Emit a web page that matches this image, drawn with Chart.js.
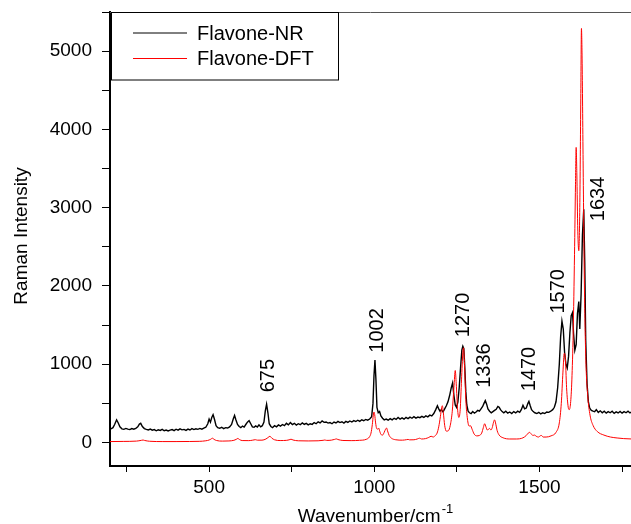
<!DOCTYPE html>
<html>
<head>
<meta charset="utf-8">
<script src="https://cdn.jsdelivr.net/npm/chart.js@4.4.1/dist/chart.umd.min.js"></script>
<style>
  html, body { margin: 0; padding: 0; background: #fff; }
  #wrap { width: 631px; height: 524px; overflow: hidden; }
</style>
</head>
<body>
<div id="wrap"><canvas id="RamanChart" width="631" height="524"></canvas></div>
<script>
// measured spectrum (Flavone-NR)
const nrWavenumber = [
  197, 203, 209, 214, 220, 225, 230, 236, 242, 248, 254, 260, 266, 272, 278, 284, 289, 293, 298, 304,
  310, 316, 322, 328, 334, 340, 346, 352, 358, 364, 370, 376, 382, 388, 394, 400, 406, 412, 418, 424,
  430, 436, 442, 448, 454, 460, 466, 472, 478, 484, 490, 496, 500, 504, 508, 512, 516, 521, 526, 532,
  538, 544, 550, 556, 562, 568, 573, 577, 581, 586, 591, 596, 601, 606, 611, 616, 621, 626, 631, 636,
  641, 646, 651, 656, 661, 666, 670, 674, 678, 682, 687, 692, 698, 704, 710, 716, 722, 728, 734, 740,
  746, 752, 758, 764, 770, 776, 782, 788, 794, 800, 806, 812, 818, 824, 830, 836, 842, 848, 854, 860,
  866, 872, 878, 884, 890, 896, 902, 908, 914, 920, 926, 932, 938, 944, 950, 956, 962, 968, 974, 980,
  986, 992, 996, 999, 1002, 1005, 1008, 1012, 1016, 1020, 1025, 1030, 1036, 1042, 1048, 1054, 1060, 1066, 1072, 1078,
  1084, 1090, 1096, 1102, 1108, 1114, 1120, 1126, 1132, 1138, 1144, 1150, 1156, 1162, 1168, 1174, 1180, 1186, 1191, 1195,
  1199, 1203, 1208, 1213, 1218, 1223, 1228, 1233, 1237, 1241, 1245, 1249, 1253, 1257, 1261, 1265, 1268, 1271, 1274, 1277,
  1280, 1284, 1288, 1293, 1298, 1303, 1308, 1313, 1318, 1323, 1328, 1332, 1336, 1340, 1344, 1349, 1354, 1359, 1364, 1369,
  1374, 1378, 1382, 1387, 1392, 1398, 1404, 1410, 1416, 1422, 1428, 1434, 1440, 1445, 1450, 1455, 1460, 1465, 1468, 1472,
  1476, 1481, 1486, 1492, 1498, 1504, 1510, 1516, 1522, 1528, 1534, 1540, 1545, 1550, 1555, 1560, 1564, 1568, 1572, 1576,
  1580, 1584, 1588, 1592, 1596, 1600, 1603, 1607, 1611, 1615, 1619, 1622, 1626, 1630, 1634, 1637, 1640, 1644, 1648, 1652,
  1657, 1662, 1667, 1672, 1678, 1684, 1690, 1696, 1702, 1708, 1714, 1720, 1726, 1732, 1738, 1744, 1750, 1756, 1762, 1768,
  1774, 1780
];
const nrIntensity = [
  180, 175, 190, 230, 290, 250, 200, 175, 168, 180, 172, 165, 178, 170, 182, 200, 235, 245, 205, 178,
  168, 160, 172, 158, 165, 150, 162, 155, 168, 150, 160, 148, 158, 165, 152, 170, 158, 175, 162, 168,
  155, 172, 160, 178, 165, 175, 168, 180, 170, 185, 195, 240, 300, 260, 320, 355, 300, 215, 190, 182,
  195, 178, 190, 185, 200, 230, 300, 345, 290, 230, 205, 190, 210, 198, 230, 260, 280, 240, 200, 195,
  212, 198, 225, 200, 215, 260, 400, 490, 380, 240, 205, 190, 215, 200, 225, 210, 230, 215, 245, 225,
  255, 230, 245, 222, 240, 228, 250, 232, 245, 225, 240, 232, 255, 240, 265, 250, 275, 258, 262, 248,
  255, 240, 262, 250, 270, 255, 265, 248, 270, 258, 275, 262, 280, 268, 285, 270, 290, 278, 295, 285,
  300, 330, 500, 850, 1055, 800, 450, 380, 395, 340, 310, 290, 300, 285, 305, 290, 310, 295, 320, 300,
  315, 298, 320, 305, 325, 310, 330, 312, 325, 318, 335, 320, 340, 328, 350, 340, 370, 420, 470, 430,
  400, 420, 390, 430, 470, 520, 600, 700, 760, 600, 480, 450, 520, 700, 950, 1180, 1230, 1200, 950, 650,
  480, 400, 380, 370, 395, 375, 390, 410, 400, 430, 460, 500, 535, 490, 430, 400, 380, 395, 410, 425,
  460, 450, 420, 395, 380, 400, 375, 390, 370, 395, 378, 400, 385, 420, 475, 430, 440, 500, 525, 470,
  420, 395, 380, 370, 385, 365, 380, 370, 390, 385, 400, 420, 450, 520, 700, 1000, 1350, 1550, 1450, 1150,
  1000, 950, 1100, 1400, 1620, 1660, 1400, 1180, 1250, 1650, 1800, 1450, 1900, 2650, 2980, 2300, 1300, 750, 520, 440,
  410, 400, 395, 420, 385, 405, 380, 400, 375, 395, 380, 400, 372, 392, 378, 398, 375, 395, 380, 400,
  378, 395
];

// computed spectrum (Flavone-DFT)
const dftWavenumber = [
  200, 240, 280, 295, 300, 305, 320, 360, 400, 440, 470, 490, 500, 505, 510, 515, 522, 540, 560, 575,
  582, 587, 592, 600, 620, 632, 640, 646, 660, 672, 678, 684, 690, 698, 715, 735, 742, 748, 754, 770,
  800, 830, 845, 850, 856, 870, 880, 885, 890, 905, 930, 955, 975, 985, 990, 994, 997, 999, 1001, 1004,
  1007, 1010, 1013, 1016, 1020, 1025, 1030, 1034, 1037, 1040, 1045, 1052, 1065, 1085, 1097, 1102, 1107, 1120, 1130, 1137,
  1143, 1155, 1165, 1172, 1178, 1185, 1190, 1195, 1200, 1204, 1206, 1209, 1213, 1218, 1224, 1230, 1236, 1241, 1245, 1248,
  1252, 1256, 1260, 1264, 1268, 1270, 1273, 1277, 1282, 1287, 1291, 1296, 1302, 1310, 1318, 1325, 1330, 1334, 1338, 1342,
  1346, 1349, 1353, 1357, 1361, 1364, 1367, 1372, 1378, 1390, 1410, 1430, 1450, 1460, 1466, 1470, 1475, 1480, 1485, 1490,
  1497, 1502, 1506, 1511, 1520, 1535, 1550, 1560, 1566, 1571, 1575, 1578, 1582, 1587, 1590, 1594, 1598, 1602, 1606, 1609,
  1611, 1613, 1616, 1619, 1622, 1625, 1627, 1629, 1632, 1636, 1640, 1646, 1653, 1662, 1675, 1695, 1715, 1735, 1755, 1780
];
const dftIntensity = [
  12, 14, 18, 28, 32, 26, 16, 12, 12, 13, 15, 22, 32, 42, 55, 40, 26, 18, 20, 28,
  40, 52, 38, 25, 24, 30, 36, 30, 30, 45, 62, 80, 55, 35, 25, 28, 34, 42, 32, 22,
  20, 22, 28, 32, 27, 30, 40, 46, 38, 26, 24, 28, 40, 70, 120, 230, 350, 390, 360, 250,
  180, 170, 185, 150, 105, 95, 130, 170, 185, 150, 90, 55, 35, 30, 36, 40, 34, 35, 45, 55,
  45, 50, 65, 80, 70, 90, 120, 200, 330, 450, 470, 380, 220, 145, 150, 220, 400, 700, 920, 750,
  430, 320, 420, 800, 1150, 1210, 1000, 550, 300, 210, 215, 170, 110, 85, 90, 120, 190, 240, 200, 160,
  170, 180, 160, 190, 260, 290, 250, 150, 95, 60, 45, 45, 60, 90, 120, 130, 110, 90, 95, 80,
  70, 85, 90, 70, 70, 85, 130, 250, 500, 900, 1140, 1100, 700, 450, 420, 500, 800, 1400, 2400, 3300,
  3770, 3450, 2700, 2450, 3000, 4400, 5290, 4900, 3600, 2000, 1100, 600, 350, 220, 140, 95, 70, 58, 50, 45
];

const seriesNames = ['Flavone-NR', 'Flavone-DFT'];
const xTickLabels = [500, 1000, 1500];
const yTickLabels = [0, 1000, 2000, 3000, 4000, 5000];

// peak annotations
const peakLabels = ['675', '1002', '1270', '1336', '1470', '1570', '1634'];
const peakLabelX = [675, 1005, 1264, 1329, 1465, 1554, 1675];
const peakLabelY = [855, 1432, 1630, 983, 938, 1932, 3112];

const FONT = '"Liberation Sans", Arial, Helvetica, sans-serif';

function toPoints(xs, ys) {
    return xs.map((x, i) => ({ x: x, y: ys[i] }));
}

// major + minor tick positions between the axis limits
function stepTicks(scale, step) {
    const out = [];
    for (let v = Math.ceil(scale.min / step) * step; v <= scale.max; v += step) {
        out.push({ value: v });
    }
    scale.ticks = out;
}

const extras = {
    id: 'extras',
    afterDraw(chart) {
        const ctx = chart.ctx;
        const area = chart.chartArea;
        const xs = chart.scales.x;
        const ys = chart.scales.y;
        ctx.save();

        // top frame line
        ctx.strokeStyle = '#555';
        ctx.lineWidth = 1;
        ctx.beginPath();
        ctx.moveTo(area.left, area.top + 0.5);
        ctx.lineTo(area.right, area.top + 0.5);
        ctx.stroke();

        // peak labels, rotated
        ctx.fillStyle = '#000';
        ctx.font = '20px ' + FONT;
        ctx.textAlign = 'center';
        ctx.textBaseline = 'alphabetic';
        peakLabels.forEach((t, i) => {
            const px = xs.getPixelForValue(peakLabelX[i]);
            const py = ys.getPixelForValue(peakLabelY[i]);
            ctx.save();
            ctx.translate(px + 7, py);
            ctx.rotate(-Math.PI / 2);
            ctx.fillText(t, 0, 0);
            ctx.restore();
        });

        // y title
        ctx.font = '19px ' + FONT;
        ctx.save();
        ctx.translate(27, 236);
        ctx.rotate(-Math.PI / 2);
        ctx.textAlign = 'center';
        ctx.fillText('Raman Intensity', 0, 0);
        ctx.restore();

        // x title with superscript
        const main = 'Wavenumber/cm';
        const sup = '-1';
        ctx.font = '19px ' + FONT;
        const wMain = ctx.measureText(main).width;
        ctx.font = '13px ' + FONT;
        const wSup = ctx.measureText(sup).width;
        const startX = 375 - (wMain + wSup) / 2;
        ctx.textAlign = 'left';
        ctx.font = '19px ' + FONT;
        ctx.fillText(main, startX, 522);
        ctx.font = '13px ' + FONT;
        ctx.fillText(sup, startX + wMain + 1, 513);

        // legend box
        ctx.fillStyle = '#fff';
        ctx.fillRect(111, 13, 227, 67);
        ctx.strokeStyle = '#000';
        ctx.lineWidth = 1;
        ctx.strokeRect(111.5, 12.5, 227, 67.5);
        const rowsY = [33, 58.5];
        chart.data.datasets.forEach((ds, i) => {
            ctx.strokeStyle = ds.borderColor;
            ctx.lineWidth = 1;
            ctx.beginPath();
            ctx.moveTo(133, rowsY[i]);
            ctx.lineTo(187, rowsY[i]);
            ctx.stroke();
            ctx.fillStyle = '#000';
            ctx.font = '20px ' + FONT;
            ctx.textBaseline = 'middle';
            ctx.fillText(ds.label, 197, rowsY[i] + 1);
        });
        ctx.restore();
    }
};

const ctx = document.getElementById('RamanChart');
new Chart(ctx, {
    type: 'line',
    data: {
        datasets: [{
            label: seriesNames[0],
            data: toPoints(nrWavenumber, nrIntensity),
            borderColor: '#000000',
            borderWidth: 1.4,
            pointRadius: 0,
            order: 2
        }, {
            label: seriesNames[1],
            data: toPoints(dftWavenumber, dftIntensity),
            borderColor: '#ff0000',
            borderWidth: 1,
            pointRadius: 0,
            cubicInterpolationMode: 'monotone',
            order: 1
        }]
    },
    options: {
        responsive: false,
        animation: false,
        layout: { padding: { top: 12, right: 0, left: 0, bottom: 0 } },
        plugins: {
            legend: { display: false },
            tooltip: { enabled: false }
        },
        scales: {
            x: {
                type: 'linear',
                min: 200,
                max: 1777,
                afterBuildTicks: s => stepTicks(s, 250),
                afterFit: s => { s.height = 58; },
                ticks: {
                    autoSkip: false,
                    maxRotation: 0,
                    padding: 4,
                    color: '#000',
                    font: { family: FONT, size: 19 },
                    callback: v => xTickLabels.includes(v) ? String(v) : ''
                },
                grid: { drawOnChartArea: false, tickLength: 6, color: '#000', tickWidth: 1 },
                border: { color: '#000', width: 2 }
            },
            y: {
                min: -300,
                max: 5500,
                afterBuildTicks: s => stepTicks(s, 500),
                afterFit: s => { s.width = 110; s.paddingTop = 0; s.paddingBottom = 0; },
                ticks: {
                    autoSkip: false,
                    padding: 10,
                    color: '#000',
                    font: { family: FONT, size: 19 },
                    callback: v => yTickLabels.includes(v) ? String(v) : ''
                },
                grid: { drawOnChartArea: false, tickLength: 8, color: '#000', tickWidth: 1 },
                border: { color: '#000', width: 2 }
            }
        }
    },
    plugins: [extras]
});
</script>
</body>
</html>
